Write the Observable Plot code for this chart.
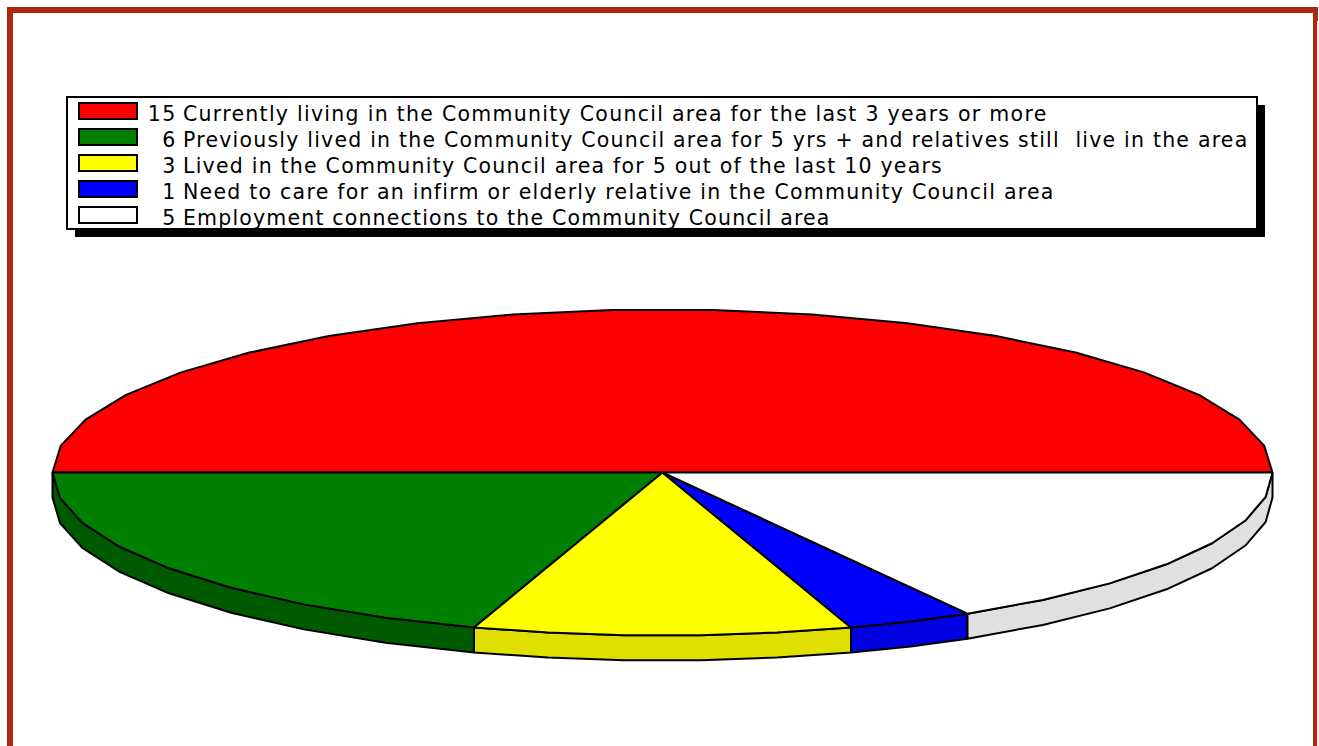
<!DOCTYPE html>
<html>
<head>
<meta charset="utf-8">
<script src="https://cdn.jsdelivr.net/npm/d3@7"></script>
<script src="https://cdn.jsdelivr.net/npm/@observablehq/plot@0.6"></script>
<style>
  html, body { margin: 0; padding: 0; background: #fff; overflow: hidden; }
  #page { position: relative; width: 1319px; height: 746px; overflow: hidden; }
  #frame { position: absolute; left: 7px; top: 7px; width: 1300px; height: 800px; border-style: solid; border-color: #a8290f; border-width: 6px 5px 0 6px; }
  #strip { position: absolute; left: 1317px; top: 21px; width: 2px; height: 725px; background: #fdf0e6; }
  #shadow { position: absolute; left: 75px; top: 105px; width: 1190px; height: 132px; background: #000; z-index: 2; }
  #legend { position: absolute; left: 66px; top: 96px; width: 1188px; height: 130px; border: solid #000; border-width: 2px; background: #fff; overflow: hidden; font-family: "DejaVu Sans", Verdana, sans-serif; font-size: 20.5px; color: #000; z-index: 3; }
  .row { position: absolute; left: 0; height: 26px; width: 100%; white-space: pre; line-height: 26px; letter-spacing: 1.22px; }
  .row:nth-child(1) { letter-spacing: 1.27px; }
  .row:nth-child(2) { letter-spacing: 1.21px; }
  .row:nth-child(3) { letter-spacing: 1.22px; }
  .row:nth-child(4) { letter-spacing: 1.24px; }
  .row:nth-child(5) { letter-spacing: 1.17px; }
  .swatch { position: absolute; left: 10px; top: 4px; width: 56px; height: 14px; border: 2px solid #000; }
  .num { position: absolute; right: calc(100% - 108.5px); top: 3px; transform: scaleY(1.05); }
  .txt { position: absolute; left: 115px; top: 3px; transform: scaleY(1.05); }
  #chart { position: absolute; left: 0; top: 240px; z-index: 1; }
</style>
</head>
<body>
<div id="page">
  <div id="frame"></div>
  <div id="strip"></div>
  <div id="shadow"></div>
  <div id="legend"></div>
  <div id="chart"></div>
</div>
<script>
const categories = [
  "Currently living in the Community Council area for the last 3 years or more",
  "Previously lived in the Community Council area for 5 yrs + and relatives still  live in the area",
  "Lived in the Community Council area for 5 out of the last 10 years",
  "Need to care for an infirm or elderly relative in the Community Council area",
  "Employment connections to the Community Council area"
];
const values = [15, 6, 3, 1, 5];
const topColors = ["#ff0000", "#008000", "#ffff00", "#0000ff", "#ffffff"];
const wallColors = ["#a00000", "#005a00", "#e0e000", "#0000e0", "#e0e0e0"];
const arcSegments = [19, 8, 5, 2, 7];
const wallDepth = 25 / 163;

// slices run counter-clockwise from the right-hand edge of the disc
const total = d3.sum(values);
const topFaces = [], walls = [];
let acc = 0;
values.forEach((v, i) => {
  const a0 = acc / total * 2 * Math.PI;
  const a1 = (acc + v) / total * 2 * Math.PI;
  acc += v;
  const arc = d3.range(arcSegments[i] + 1).map(k => {
    const a = a0 + (a1 - a0) * k / arcSegments[i];
    return {x: Math.cos(a), y: Math.sin(a)};
  });
  [{x: 0, y: 0}, ...arc].forEach(p => topFaces.push({...p, slice: i, fill: topColors[i]}));
  // only the part of the rim in the lower half of the disc shows a wall
  if (a0 >= Math.PI - 1e-9) {
    arc.forEach(p => walls.push({...p, slice: i, fill: wallColors[i]}));
    arc.slice().reverse().forEach(p => walls.push({x: p.x, y: p.y - wallDepth, slice: i, fill: wallColors[i]}));
  }
});

const common = {x: "x", y: "y", z: "slice", fill: "fill", stroke: "#000", strokeWidth: 2, curve: "linear-closed", strokeLinejoin: "miter"};
const plot = Plot.plot({
  width: 1319,
  height: 506,
  margin: 0,
  x: {domain: [-1, 1], range: [52, 1272], axis: null},
  y: {domain: [-1, 1], range: [395, 69], axis: null},
  color: {type: "identity"},
  marks: [
    Plot.line(walls, common),
    Plot.line(topFaces, common)
  ]
});
plot.style.background = "transparent";
document.getElementById("chart").append(plot);

const legend = d3.select("#legend");
categories.forEach((c, i) => {
  const row = legend.append("div").attr("class", "row").style("top", `${i * 26}px`);
  row.append("div").attr("class", "swatch").style("background", topColors[i]);
  row.append("span").attr("class", "num").text(values[i]);
  row.append("span").attr("class", "txt").text(c);
});
</script>
</body>
</html>
